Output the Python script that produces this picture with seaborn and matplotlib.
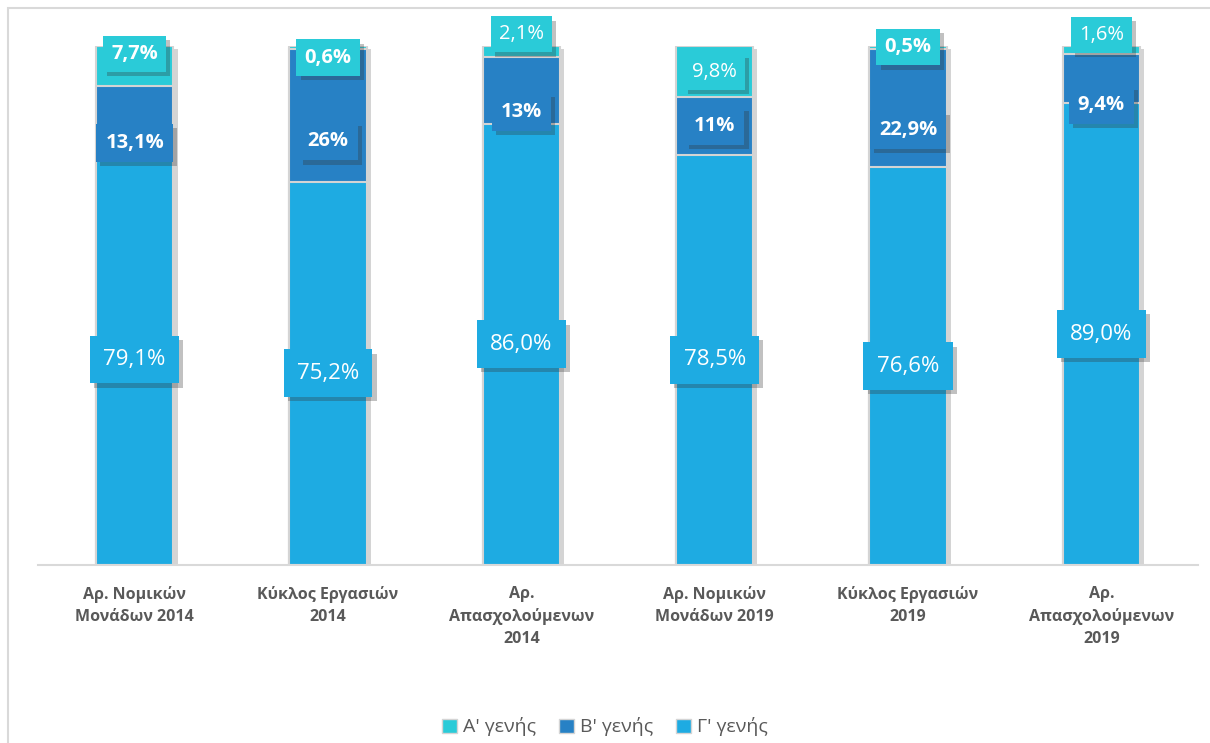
import matplotlib
matplotlib.use('Agg')
import matplotlib.pyplot as plt
import matplotlib.patheffects as pe
from matplotlib.patches import Rectangle
import seaborn as sns
import pandas as pd

# data
categories = ['Αρ. Νομικών\nΜονάδων 2014', 'Κύκλος Εργασιών\n2014', 'Αρ.\nΑπασχολούμενων\n2014',
              'Αρ. Νομικών\nΜονάδων 2019', 'Κύκλος Εργασιών\n2019', 'Αρ.\nΑπασχολούμενων\n2019']
series_names = ["Α' γενής", "Β' γενής", "Γ' γενής"]
gen_a = [7.7, 0.6, 2.1, 9.8, 0.5, 1.6]
gen_b = [13.1, 26.0, 13.0, 11.0, 22.9, 9.4]
gen_c = [79.1, 75.2, 86.0, 78.5, 76.6, 89.0]
labels_a = ['7,7%', '0,6%', '2,1%', '9,8%', '0,5%', '1,6%']
labels_b = ['13,1%', '26%', '13%', '11%', '22,9%', '9,4%']
labels_c = ['79,1%', '75,2%', '86,0%', '78,5%', '76,6%', '89,0%']
bold_a = [True, True, False, False, True, False]

# label nudges (pixels), the original labels were moved by hand
shift_a = [12, -10, 17, 0, 0, 15]
shift_b = [-23, -26, -22, 0, -22, -26]

colors = ['#2ACBD8', '#2781C5', '#1EABE2']

sns.set_theme(style='white')
plt.rcParams['font.family'] = ['Open Sans', 'DejaVu Sans']

# 100% stacked, like the excel chart
df = pd.DataFrame({'cat': categories, 'a': gen_a, 'b': gen_b, 'c': gen_c})
tot = df['a'] + df['b'] + df['c']
df['c_pct'] = df['c'] / tot * 100
df['bc_pct'] = (df['b'] + df['c']) / tot * 100
df['abc_pct'] = 100.0

fig = plt.figure(figsize=(12.1, 7.43), dpi=100)
ax = fig.add_axes([38 / 1210, 1 - 565 / 743, 1160 / 1210, 519 / 743])

shadow = [pe.SimplePatchShadow(offset=(3, -2), shadow_rgbFace='#555555', alpha=0.25), pe.Normal()]
for col, c in zip(['abc_pct', 'bc_pct', 'c_pct'], colors):
    sns.barplot(data=df, x='cat', y=col, color=c, width=0.4, ax=ax,
                edgecolor='#d4d4d4', linewidth=1.5, saturation=1)
for p in ax.patches[:len(categories)]:
    p.set_path_effects(shadow)

ax.set_ylim(0, 100)
ax.set_xlim(-0.5, len(categories) - 0.5)
ax.set_xlabel('')
ax.set_ylabel('')
ax.set_yticks([])
for s in ['top', 'left', 'right']:
    ax.spines[s].set_visible(False)
ax.spines['bottom'].set_color('#d9d9d9')
ax.spines['bottom'].set_linewidth(1.5)
ax.tick_params(axis='x', length=0, pad=15)
for t in ax.get_xticklabels():
    t.set_fontsize(11.5)
    t.set_fontweight('bold')
    t.set_color('#595959')
    t.set_linespacing(1.5)
    t.set_verticalalignment('top')

box_shadow = [pe.SimplePatchShadow(offset=(3, -3), shadow_rgbFace='#333333', alpha=0.3), pe.Normal()]


def put_label(x, y, dy, txt, face, bold, size, pad):
    t = ax.annotate(txt, (x, y), xytext=(0, dy), textcoords='offset pixels',
                    ha='center', va='center', color='white', fontsize=size,
                    fontweight='bold' if bold else 'normal',
                    bbox=dict(boxstyle=f'square,pad={pad}', fc=face, ec='none'))
    t.get_bbox_patch().set_path_effects(box_shadow)


for i in range(len(categories)):
    c_top = df['c_pct'][i]
    b_top = df['bc_pct'][i]
    put_label(i, c_top / 2, 0, labels_c[i], colors[2], False, 16, 0.6)
    put_label(i, (c_top + b_top) / 2, shift_b[i], labels_b[i], colors[1], True, 14.5, 0.45)
    put_label(i, (b_top + 100) / 2, shift_a[i], labels_a[i], colors[0], bold_a[i], 14.5, 0.4)

handles = [Rectangle((0, 0), 1, 1, fc=c, ec='#d4d4d4', lw=1) for c in colors]
leg = fig.legend(handles, series_names, loc='center', bbox_to_anchor=(0.5, 1 - 727 / 743),
                 ncol=3, frameon=False, fontsize=14, handlelength=0.75, handleheight=0.75,
                 handletextpad=0.3, columnspacing=1.2)
for t in leg.get_texts():
    t.set_color('#595959')

# outer chart border
fig.patches.append(Rectangle((8 / 1210, -0.02), 1.05, 1 - 8 / 743 + 0.02, transform=fig.transFigure,
                             fill=False, ec='#d9d9d9', lw=1.5))

fig.savefig('out.png', dpi=100)
